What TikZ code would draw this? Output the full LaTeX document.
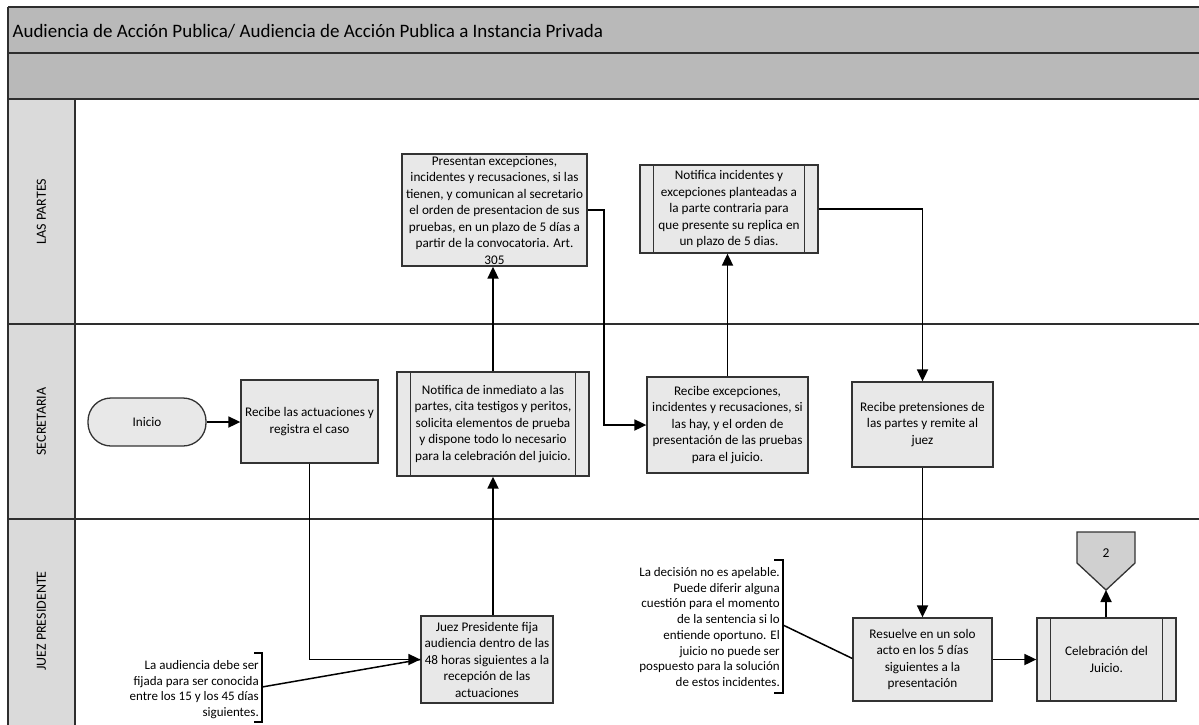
\documentclass[tikz,border=0pt]{standalone}
\usepackage{fontspec}
\setmainfont{Carlito}
\usetikzlibrary{arrows.meta}
\definecolor{bandgray}{HTML}{B9B9B9}
\definecolor{colgray}{HTML}{DADADA}
\definecolor{boxfill}{HTML}{E8E8E8}
\definecolor{pagefill}{HTML}{D0D0D0}
\definecolor{frameline}{HTML}{2E2E2E}
\begin{document}
\begin{tikzpicture}[x=1pt,y=-1pt,
  box/.style={draw=black!80, fill=boxfill, line width=1.3pt, align=center,
    font=\fontsize{13.2}{16.5}\selectfont, inner sep=0pt},
  link/.style={draw=black, line width=1.8pt},
  arr/.style={link, -{Triangle[length=12pt,width=11pt]}},
  note/.style={align=right, inner sep=0pt, font=\fontsize{13}{15.7}\selectfont},
  lane/.style={rotate=90, font=\fontsize{14}{16}\selectfont},
  bar/.style={draw=black!80, line width=1.3pt},
  sep/.style={draw=frameline, line width=1.8pt}
]
\useasboundingbox (0,0) rectangle (1199,724);

% header bands and lane label column
\fill[bandgray] (8,7) rectangle (1210,99);
\fill[colgray] (8,99) rectangle (75,730);
\draw[sep] (8,7) -- (1210,7);
\draw[sep] (8,53) -- (1210,53);
\draw[sep] (8,99) -- (1210,99);
\draw[sep] (8,324) -- (1210,324);
\draw[sep] (8,519) -- (1210,519);
\draw[sep] (8,7) -- (8,730);
\draw[sep] (75,99) -- (75,730);

\node[anchor=west, font=\fontsize{19}{22}\selectfont] (title) at (9,31)
  {Audiencia de Acción Publica/ Audiencia de Acción Publica a Instancia Privada};

% lane names
\node[lane] (lpartes) at (41.5,211.5) {LAS PARTES};
\node[lane] (lsecre) at (41.5,421.5) {SECRETARIA};
\node[lane] (ljuez) at (41.5,621) {JUEZ PRESIDENTE};

% process steps
\node[box, rounded corners=23pt, minimum width=118pt, minimum height=48pt] (inicio) at (147,422) {Inicio};
\node[box, minimum width=137pt, minimum height=83pt] (ra) at (309.5,421.5)
  {Recibe las actuaciones y\\registra el caso};
\node[box, minimum width=192pt, minimum height=104pt] (ni) at (493,424)
  {Notifica de inmediato a las\\partes, cita testigos y peritos,\\solicita elementos de prueba\\y dispone todo lo necesario\\para la celebración del juicio.};
\node[box, minimum width=185pt, minimum height=112pt] (pe) at (494.5,210)
  {Presentan excepciones,\\incidentes y recusaciones, si las\\tienen, y comunican al secretario\\el orden de presentacion de sus\\pruebas, en un plazo de 5 días a\\partir de la convocatoria. Art.\\305};
\node[box, minimum width=178pt, minimum height=88pt] (nx) at (729,209)
  {Notifica incidentes y\\excepciones planteadas a\\la parte contraria para\\que presente su replica en\\un plazo de 5 dias.};
\node[box, minimum width=161pt, minimum height=96pt] (re) at (727.5,425)
  {Recibe excepciones,\\incidentes y recusaciones, si\\las hay, y el orden de\\presentación de las pruebas\\para el juicio.};
\node[box, minimum width=141pt, minimum height=85pt] (rp) at (922.5,424.5)
  {Recibe pretensiones de\\las partes y remite al\\juez};
\node[box, minimum width=132pt, minimum height=87pt] (jp) at (487,659.5)
  {Juez Presidente fija\\audiencia dentro de las\\48 horas siguientes a la\\recepción de las\\actuaciones};
\node[box, minimum width=139pt, minimum height=83pt] (res) at (922.5,659.5)
  {Resuelve en un solo\\acto en los 5 días\\siguientes a la\\presentación};
\node[box, minimum width=139pt, minimum height=83pt] (cj) at (1106.5,659.5)
  {Celebración del\\Juicio.};

% side bars of the predefined-process boxes
\foreach \n in {ni,nx,cj}{
  \draw[bar] ([xshift=14pt]\n.north west) -- ([xshift=14pt]\n.south west);
  \draw[bar] ([xshift=-14pt]\n.north east) -- ([xshift=-14pt]\n.south east);
}

% off-page connector
\filldraw[fill=pagefill, draw=black!80, line width=1.3pt]
  (1077,532) -- (1135,532) -- (1135,563) -- (1106,590) -- (1077,563) -- cycle;
\coordinate (optip) at (1106,590);
\node[font=\fontsize{13.5}{16}\selectfont] (opnum) at (1106,553) {2};

% annotations
\node[note, anchor=east] (n1) at (259,689.5)
  {La audiencia debe ser\\fijada para ser conocida\\entre los 15 y los 45 días\\siguientes.};
\draw[link, line width=1.2pt] (254,653) -- (262,653) -- (262,722) -- (254,722);
\coordinate (n1a) at (262,687);

\node[note, anchor=east] (n2) at (780,627)
  {La decisión no es apelable.\\Puede diferir alguna\\cuestión para el momento\\de la sentencia si lo\\entiende oportuno. El\\juicio no puede ser\\pospuesto para la solución\\de estos incidentes.};
\draw[link, line width=1.2pt] (774,560) -- (783,560) -- (783,693) -- (774,693);
\coordinate (n2a) at (783,625);

% flow
\draw[arr] (inicio.east) -- (ra.west |- inicio.east);
\draw[arr] (ra.south) |- (jp.west);
\draw[arr] (jp.north -| ni.south) -- (ni.south);
\draw[arr] (ni.north) -- (ni.north |- pe.south);
\draw[arr] (pe.east) -- ++(16,0) |- (re.west);
\draw[arr] (re.north) -- (re.north |- nx.south);
\draw[arr] (nx.east) -| (rp.north);
\draw[arr] (rp.south) -- (res.north);
\draw[arr] (res.east) -- (cj.west);
\draw[arr] (cj.north -| optip) -- (optip);

% annotation leaders
\draw[link, line width=1.5pt] (n1a) -- (jp.west);
\draw[link, line width=1.5pt] (n2a) -- ([yshift=1pt]res.west);
\end{tikzpicture}
\end{document}
